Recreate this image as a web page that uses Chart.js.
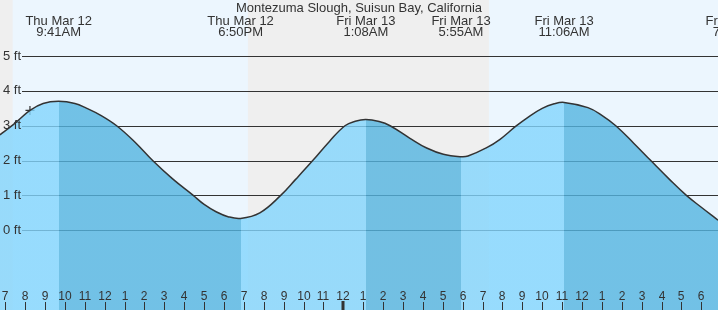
<!DOCTYPE html>
<html lang="en">
<head>
    <meta charset="UTF-8">
    <title>Montezuma Slough tides</title>
    <script src="https://cdn.jsdelivr.net/npm/chart.js"></script>
    <style>
        html, body { margin: 0; padding: 0; background: #fff; overflow: hidden; }
        #tideChart { display: block; }
    </style>
</head>
<body>
    <canvas id="tideChart" width="718" height="310"></canvas>

    <script>
        // hours counted from Thu Mar 12 00:00
        const tideHours = [6.73, 7.40, 8.24, 8.90, 9.68, 10.5, 11.1, 11.8, 12.6, 13.5,
            14.41, 15.4, 16.45, 17.0, 17.6, 18.2, 18.83, 19.8, 20.85, 21.6,
            22.46, 23.3, 24.08, 24.6, 25.13, 25.8, 26.35, 27.35, 28.19, 29.03,
            29.92, 30.27, 31.21, 31.88, 32.66, 33.3, 34.0, 34.6, 35.10, 36.3,
            37.0, 37.7, 38.6, 39.46, 40.4, 41.25, 42.0, 42.84];
        const tideFeet = [2.74, 3.03, 3.44, 3.64, 3.70, 3.64, 3.50, 3.30, 3.00, 2.54,
            2.00, 1.48, 1.00, 0.74, 0.53, 0.39, 0.34, 0.50, 1.00, 1.46,
            2.00, 2.55, 3.00, 3.13, 3.18, 3.12, 3.00, 2.64, 2.36, 2.18,
            2.11, 2.13, 2.37, 2.61, 2.98, 3.25, 3.50, 3.63, 3.67, 3.52,
            3.30, 3.00, 2.50, 2.00, 1.46, 1.00, 0.66, 0.29];

        const extremeHours = [9.683, 18.833, 25.133, 29.917, 35.1, 43.7];
        const extremeKinds = ['H', 'L', 'H', 'L', 'H', 'L'];
        const extremeDays = ['Thu Mar 12', 'Thu Mar 12', 'Fri Mar 13', 'Fri Mar 13', 'Fri Mar 13', 'Fri Mar 13'];
        const extremeTimes = ['9:41AM', '6:50PM', '1:08AM', '5:55AM', '11:06AM', '7:42PM'];

        const nowHour = [8.24];
        const nowFeet = [3.44];

        const nightFrom = [6.0, 19.20];
        const nightTo = [7.37, 31.32];

        const feetTicks = [0, 1, 2, 3, 4, 5];
        const firstTickHour = 7;
        const hourLabels = ['7', '8', '9', '10', '11', '12', '1', '2', '3', '4', '5', '6',
            '7', '8', '9', '10', '11', '12', '1', '2', '3', '4', '5', '6',
            '7', '8', '9', '10', '11', '12', '1', '2', '3', '4', '5', '6'];

        const title = 'Montezuma Slough, Suisun Bay, California';

        const FONT = '"Liberation Sans", Arial, sans-serif';
        const TEXT = '#333';
        const WATER_LIGHT = 'rgba(130, 213, 253, 0.8)';
        const WATER_DARK = 'rgba(83, 180, 224, 0.8)';

        // hard-stop gradient: light while rising, dark while falling
        const waterFill = (context) => {
            const chart = context.chart;
            const area = chart.chartArea;
            if (!area) return WATER_LIGHT;
            const xs = chart.scales.x;
            const g = chart.ctx.createLinearGradient(area.left, 0, area.right, 0);
            const w = area.right - area.left;
            let current = extremeKinds[0] === 'H' ? WATER_LIGHT : WATER_DARK;
            g.addColorStop(0, current);
            extremeHours.forEach((h, i) => {
                const p = (xs.getPixelForValue(h) - area.left) / w;
                if (p <= 0 || p >= 1) return;
                const next = extremeKinds[i] === 'H' ? WATER_DARK : WATER_LIGHT;
                g.addColorStop(p, current);
                g.addColorStop(p, next);
                current = next;
            });
            g.addColorStop(1, current);
            return g;
        };

        const tideDecor = {
            id: 'tideDecor',
            beforeDatasetsDraw(chart) {
                const { ctx, chartArea: a, scales: { x, y } } = chart;
                ctx.save();
                ctx.fillStyle = '#ecf6fe';
                ctx.fillRect(a.left, a.top, a.right - a.left, a.bottom - a.top);
                ctx.fillStyle = '#efefef';
                nightFrom.forEach((from, i) => {
                    const x0 = Math.max(a.left, x.getPixelForValue(from));
                    const x1 = Math.min(a.right, x.getPixelForValue(nightTo[i]));
                    ctx.fillRect(x0, a.top, x1 - x0, a.bottom - a.top);
                });
                ctx.strokeStyle = '#333';
                ctx.lineWidth = 1;
                feetTicks.forEach(ft => {
                    const py = Math.round(y.getPixelForValue(ft)) + 0.5;
                    ctx.beginPath();
                    ctx.moveTo(22, py);
                    ctx.lineTo(a.right, py);
                    ctx.stroke();
                });
                ctx.restore();
            },
            afterDatasetsDraw(chart) {
                const { ctx, chartArea: a, scales: { x, y } } = chart;
                ctx.save();
                ctx.fillStyle = TEXT;

                // feet labels
                ctx.font = '13px ' + FONT;
                ctx.textAlign = 'left';
                ctx.textBaseline = 'middle';
                feetTicks.forEach(ft => {
                    ctx.fillText(ft + ' ft', 3, y.getPixelForValue(ft));
                });

                // title and high / low labels
                ctx.textAlign = 'center';
                ctx.textBaseline = 'alphabetic';
                ctx.fillText(title, (a.left + a.right) / 2, 11.5);
                extremeHours.forEach((h, i) => {
                    const px = x.getPixelForValue(h);
                    ctx.fillText(extremeDays[i], px, 24.5);
                    ctx.fillText(extremeTimes[i], px, 36);
                });

                // hour ticks along the bottom
                ctx.font = '12px ' + FONT;
                ctx.strokeStyle = '#333';
                hourLabels.forEach((lab, i) => {
                    const hour = firstTickHour + i;
                    const px = Math.round(x.getPixelForValue(hour));
                    ctx.fillText(lab, px, 299.5);
                    if (hour % 24 === 0) {
                        ctx.fillRect(px - 1.5, 301, 3, a.bottom - 301);
                    } else {
                        ctx.beginPath();
                        ctx.lineWidth = 1;
                        ctx.moveTo(px + 0.5, 302);
                        ctx.lineTo(px + 0.5, a.bottom);
                        ctx.stroke();
                    }
                });
                ctx.restore();
            }
        };

        new Chart(document.getElementById('tideChart'), {
            type: 'line',
            data: {
                datasets: [
                    {
                        label: 'Tide',
                        data: tideHours.map((h, i) => ({ x: h, y: tideFeet[i] })),
                        borderColor: '#333',
                        borderWidth: 1.5,
                        backgroundColor: waterFill,
                        fill: 'start',
                        pointRadius: 0,
                        tension: 0.4
                    },
                    {
                        label: 'Now',
                        data: nowHour.map((h, i) => ({ x: h, y: nowFeet[i] })),
                        showLine: false,
                        pointStyle: 'cross',
                        pointRadius: 4.5,
                        borderColor: '#333',
                        borderWidth: 1.2
                    }
                ]
            },
            options: {
                responsive: false,
                animation: false,
                devicePixelRatio: 1,
                events: [],
                layout: { padding: 0, autoPadding: false },
                plugins: {
                    legend: { display: false },
                    tooltip: { enabled: false },
                    title: { display: false }
                },
                scales: {
                    x: { type: 'linear', min: 6.7335, max: 42.84, display: false },
                    y: { type: 'linear', min: -2.29, max: 6.61, display: false }
                }
            },
            plugins: [tideDecor]
        });
    </script>
</body>
</html>
